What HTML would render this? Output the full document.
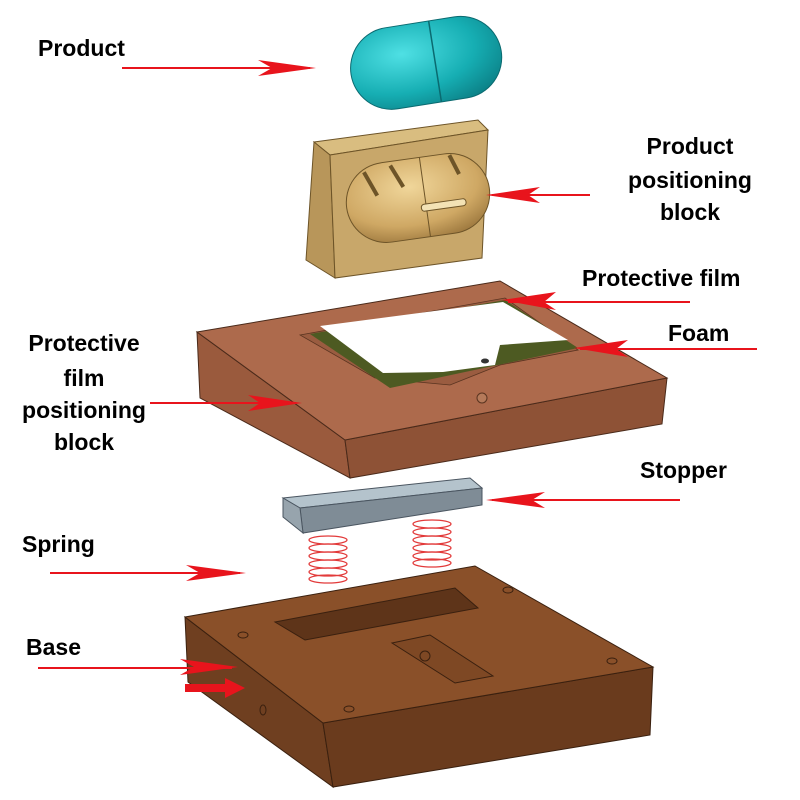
<!DOCTYPE html>
<html><head><meta charset="utf-8"><style>
html,body{margin:0;padding:0;background:#fff;}
svg{display:block}
text{font-family:"Liberation Sans",Arial,sans-serif;font-weight:bold;font-size:23px;fill:#000}
</style></head><body>
<svg width="800" height="800" viewBox="0 0 800 800" xmlns="http://www.w3.org/2000/svg">
<defs>
<radialGradient id="teal" cx="0.35" cy="0.35" r="0.8"><stop offset="0" stop-color="#4fe0e4"/><stop offset="0.6" stop-color="#16aeb3"/><stop offset="1" stop-color="#0b7e84"/></radialGradient>
<radialGradient id="gold" cx="0.45" cy="0.35" r="0.8"><stop offset="0" stop-color="#f0d69a"/><stop offset="0.6" stop-color="#cfa864"/><stop offset="1" stop-color="#8e6a33"/></radialGradient>
</defs>
<!-- product -->
<g transform="rotate(-9 425 62)">
<rect x="350" y="22" width="152" height="82" rx="41" fill="url(#teal)" stroke="#0a6a70" stroke-width="1"/>
<line x1="435" y1="22" x2="435" y2="104" stroke="#0a6a70" stroke-width="1.5"/>
</g>
<!-- product positioning block -->
<polygon points="314,142 478,120 488,130 330,155" fill="#d9bd80" stroke="#6d5428" stroke-width="1"/>
<polygon points="314,142 330,155 335,278 306,260" fill="#b8965a" stroke="#6d5428" stroke-width="1"/>
<polygon points="330,155 488,130 482,258 335,278" fill="#c8a76a" stroke="#6d5428" stroke-width="1"/>
<g transform="rotate(-8 418 198)">
<rect x="346" y="158" width="144" height="80" rx="40" fill="url(#gold)" stroke="#6d5428"/>
<line x1="425" y1="158" x2="425" y2="238" stroke="#6d5428"/>
<rect x="420" y="205" width="45" height="7" rx="3" fill="#f3e2b5" stroke="#6d5428"/>
<line x1="368" y1="165" x2="378" y2="190" stroke="#6d5428" stroke-width="4"/>
<line x1="395" y1="162" x2="405" y2="185" stroke="#6d5428" stroke-width="4"/>
<line x1="455" y1="160" x2="462" y2="180" stroke="#6d5428" stroke-width="4"/>
</g>
<!-- protective film positioning block -->
<polygon points="197,332 345,440 350,478 200,398" fill="#9a5a3d" stroke="#4a2a1a"/>
<polygon points="345,440 667,378 662,424 350,478" fill="#8e5236" stroke="#4a2a1a"/>
<polygon points="197,332 500,281 667,378 345,440" fill="#ad6a4c" stroke="#4a2a1a"/>
<polygon points="300,335 505,298 578,350 500,365 450,385 375,378" fill="#9a5c40" stroke="#5a3420" stroke-width="0.8"/>
<polygon points="310,334 505,300 578,348 390,388" fill="#4d5a22"/>
<polygon points="320,326 503,302 568,340 500,345 495,365 443,372 383,373" fill="#fff"/>
<ellipse cx="485" cy="361" rx="4" ry="2.5" fill="#333"/>
<circle cx="482" cy="398" r="5" fill="#b57a5a" stroke="#5a3420"/>
<!-- stopper -->
<polygon points="283,498 470,478 482,488 300,508" fill="#b4c3cc" stroke="#4a5560"/>
<polygon points="300,508 482,488 482,505 303,533" fill="#7f8c96" stroke="#4a5560"/>
<polygon points="283,498 300,508 303,533 283,517" fill="#97a4ad" stroke="#4a5560"/>
<!-- springs -->
<g fill="none" stroke="#e23a3a" stroke-width="1.3">
<ellipse cx="328" cy="540" rx="19" ry="4"/><ellipse cx="328" cy="548" rx="19" ry="4"/><ellipse cx="328" cy="556" rx="19" ry="4"/><ellipse cx="328" cy="564" rx="19" ry="4"/><ellipse cx="328" cy="572" rx="19" ry="4"/><ellipse cx="328" cy="579" rx="19" ry="4"/>
<ellipse cx="432" cy="524" rx="19" ry="4"/><ellipse cx="432" cy="532" rx="19" ry="4"/><ellipse cx="432" cy="540" rx="19" ry="4"/><ellipse cx="432" cy="548" rx="19" ry="4"/><ellipse cx="432" cy="556" rx="19" ry="4"/><ellipse cx="432" cy="563" rx="19" ry="4"/>
</g>
<!-- base -->
<polygon points="185,617 323,723 333,787 188,682" fill="#6f3f20" stroke="#3a200f"/>
<polygon points="323,723 653,667 650,735 333,787" fill="#6a3b1d" stroke="#3a200f"/>
<polygon points="185,617 475,566 653,667 323,723" fill="#8a5029" stroke="#3a200f"/>
<polygon points="275,622 455,588 478,608 305,640" fill="#5e3419" stroke="#3a200f"/>
<polygon points="392,643 430,635 493,676 455,683" fill="#7e4824" stroke="#3a200f"/>
<circle cx="425" cy="656" r="5" fill="none" stroke="#3a200f"/>
<g fill="none" stroke="#3a200f"><ellipse cx="243" cy="635" rx="5" ry="3"/><ellipse cx="508" cy="590" rx="5" ry="3"/><ellipse cx="612" cy="661" rx="5" ry="3"/><ellipse cx="349" cy="709" rx="5" ry="3"/><ellipse cx="263" cy="710" rx="3" ry="5"/></g>
<!-- arrows -->
<g stroke="#e8141c" stroke-width="2" fill="#e8141c">
<line x1="122" y1="68" x2="310" y2="68"/><polygon points="316,68 258,60 272,68 258,76" stroke="none"/>
<line x1="590" y1="195" x2="492" y2="195"/><polygon points="486,195 540,187 528,195 540,203" stroke="none"/>
<line x1="690" y1="302" x2="508" y2="302"/><polygon points="502,300 556,292 544,302 556,310" stroke="none"/>
<line x1="757" y1="349" x2="580" y2="349"/><polygon points="574,348 628,340 616,349 628,357" stroke="none"/>
<line x1="150" y1="403" x2="296" y2="403"/><polygon points="302,403 248,395 260,403 248,411" stroke="none"/>
<line x1="680" y1="500" x2="492" y2="500"/><polygon points="486,500 545,492 532,500 545,508" stroke="none"/>
<line x1="50" y1="573" x2="240" y2="573"/><polygon points="246,573 186,565 200,573 186,581" stroke="none"/>
<line x1="38" y1="668" x2="232" y2="668"/><polygon points="238,667 180,659 194,667 180,675" stroke="none"/>
<polygon points="185,684 225,684 225,678 245,688 225,698 225,692 185,692" stroke="none"/>
</g>
<!-- labels -->
<text x="38" y="56">Product</text>
<text x="690" y="154" text-anchor="middle">Product</text>
<text x="690" y="188" text-anchor="middle">positioning</text>
<text x="690" y="220" text-anchor="middle">block</text>
<text x="582" y="286">Protective film</text>
<text x="668" y="341">Foam</text>
<text x="84" y="351" text-anchor="middle">Protective</text>
<text x="84" y="386" text-anchor="middle">film</text>
<text x="84" y="418" text-anchor="middle">positioning</text>
<text x="84" y="450" text-anchor="middle">block</text>
<text x="640" y="478">Stopper</text>
<text x="22" y="552">Spring</text>
<text x="26" y="655">Base</text>
</svg>
</body></html>
